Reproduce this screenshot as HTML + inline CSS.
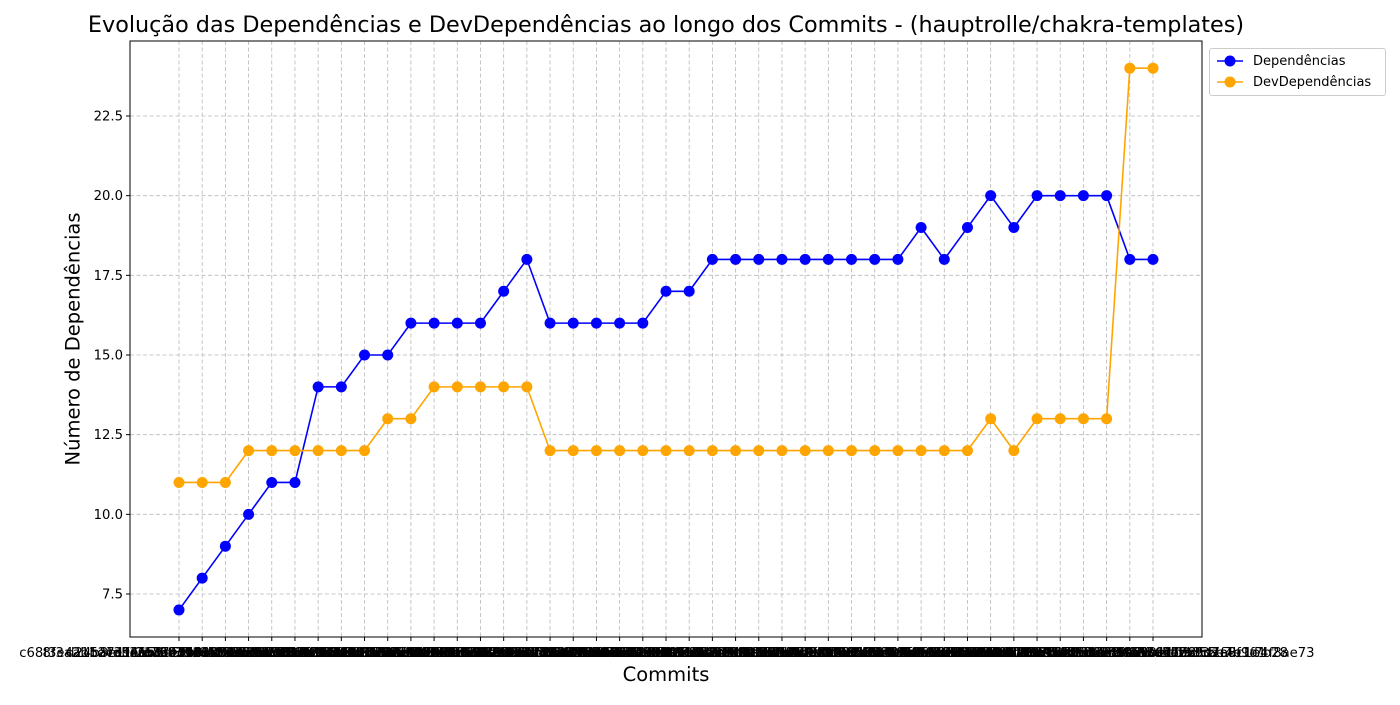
<!DOCTYPE html>
<html><head><meta charset="utf-8">
<style>
body{margin:0;background:#fff;width:1400px;height:700px;overflow:hidden}
svg text{font-family:"DejaVu Sans","Liberation Sans",sans-serif}
</style></head>
<body>
<svg id="chart" width="1400" height="700" xmlns="http://www.w3.org/2000/svg"></svg>
<script>
const categories = [
"c68f3e4a1b2c3d4e5f60718293a4b5c6d7e8f901","8f3a2b1c4d5e6f708192a3b4c5d6e7f8091a2b3c","d24b8e1f3a5c7e9b0d2f4a6c8e0b2d4f6a8c0e2a","5a7c9e1b3d5f7a9c1e3b5d7f9a1c3e5b7d9f1a3c",
"e1f2a3b4c5d6e7f8a9b0c1d2e3f4a5b6c7d8e9f0","7b8c9d0e1f2a3b4c5d6e7f8a9b0c1d2e3f4a5b6c","2c3d4e5f6a7b8c9d0e1f2a3b4c5d6e7f8a9b0c1d","9d0e1f2a3b4c5d6e7f8a9b0c1d2e3f4a5b6c7d8e",
"4e5f6a7b8c9d0e1f2a3b4c5d6e7f8a9b0c1d2e3f","b5c6d7e8f9a0b1c2d3e4f5a6b7c8d9e0f1a2b3c4","6f7a8b9c0d1e2f3a4b5c6d7e8f9a0b1c2d3e4f5a","a1b3c5d7e9f1a3b5c7d9e1f3a5b7c9d1e3f5a7b9",
"3c5e7a9b1d3f5a7c9e1b3d5f7a9c1e3b5d7f9a1c","f0e1d2c3b4a5968778695a4b3c2d1e0f1e2d3c4b","8a9b0c1d2e3f4a5b6c7d8e9f0a1b2c3d4e5f6a7b","1d2e3f4a5b6c7d8e9f0a1b2c3d4e5f6a7b8c9d0e",
"c2d3e4f5a6b7c8d9e0f1a2b3c4d5e6f7a8b9c0d1","5e6f7a8b9c0d1e2f3a4b5c6d7e8f9a0b1c2d3e4f","0f1a2b3c4d5e6f7a8b9c0d1e2f3a4b5c6d7e8f9a","e7f8a9b0c1d2e3f4a5b6c7d8e9f0a1b2c3d4e5f6",
"4a5b6c7d8e9f0a1b2c3d4e5f6a7b8c9d0e1f2a3b","9b0c1d2e3f4a5b6c7d8e9f0a1b2c3d4e5f6a7b8c","2d4f6a8c0e2b4d6f8a0c2e4b6d8f0a2c4e6b8d0f","7e9a1c3e5b7d9f1a3c5e7b9d1f3a5c7e9b1d3f5a",
"b1c2d3e4f5a6b7c8d9e0f1a2b3c4d5e6f7a8b9c0","6c7d8e9f0a1b2c3d4e5f6a7b8c9d0e1f2a3b4c5d","d8e9f0a1b2c3d4e5f6a7b8c9d0e1f2a3b4c5d6e7","3f4a5b6c7d8e9f0a1b2c3d4e5f6a7b8c9d0e1f2a",
"a6b7c8d9e0f1a2b3c4d5e6f7a8b9c0d1e2f3a4b5","1b2c3d4e5f6a7b8c9d0e1f2a3b4c5d6e7f8a9b0c","f3a4b5c6d7e8f9a0b1c2d3e4f5a6b7c8d9e0f1a2","8c9d0e1f2a3b4c5d6e7f8a9b0c1d2e3f4a5b6c7d",
"5d6e7f8a9b0c1d2e3f4a5b6c7d8e9f0a1b2c3d4e","0a2c4e6b8d0f2a4c6e8b0d2f4a6c8e0b2d4f6a8c","e4f5a6b7c8d9e0f1a2b3c4d5e6f7a8b9c0d1e2f3","7a8b9c0d1e2f3a4b5c6d7e8f9a0b1c2d3e4f5a6b",
"2b3c4d5e6f7a8b9c0d1e2f3a4b5c6d7e8f9a0b1c","c9d0e1f2a3b4c5d6e7f8a9b0c1d2e3f4a5b6c7d8","4f5a6b7c8d9e0f1a2b3c4d5e6f7a8b9c0d1e2f3a","9e0f1a2b3c4d5e6f7a8b9c0d1e2f3a4b5c6d7e8f",
"b3d5f7a9c1e3b5d7f9a1c3e5b7d9f1a3c5e7b9d1","1e3b5d7f9a1c3e5b7d9f1a3c5e7b9d1f4e1f7b28","6d1f3a5c7e9b1d3f5a7c9e1b3d5f7a9c1e4f8ae73"];
const deps = [7,8,9,10,11,11,14,14,15,15,16,16,16,16,17,18,16,16,16,16,16,17,17,18,18,18,18,18,18,18,18,18,19,18,19,20,19,20,20,20,20,18,18];
const devDeps = [11,11,11,12,12,12,12,12,12,13,13,14,14,14,14,14,12,12,12,12,12,12,12,12,12,12,12,12,12,12,12,12,12,12,12,13,12,13,13,13,13,24,24];
const yTicks = [7.5,10.0,12.5,15.0,17.5,20.0,22.5];

const NS="http://www.w3.org/2000/svg";
const svg=document.getElementById('chart');
const L=130,R=1202,T=41,B=637;
const x0=179, dx=(1153-179)/42;
function xs(i){return x0+i*dx;}
function ys(v){return 594-(v-7.5)*(594-116)/15;}
function mk(tag,attrs,parent){const e=document.createElementNS(NS,tag);for(const k in attrs)e.setAttribute(k,attrs[k]);(parent||svg).appendChild(e);return e;}

const grid=mk('g',{});


categories.forEach((c,i)=>{mk('line',{x1:xs(i),x2:xs(i),y1:T,y2:B,stroke:'#b8b8b8','stroke-dasharray':'4,2.5','stroke-width':0.8},grid);});
yTicks.forEach(v=>{mk('line',{x1:L,x2:R,y1:ys(v),y2:ys(v),stroke:'#b8b8b8','stroke-dasharray':'4,2.5','stroke-width':0.8},grid);});

const frame=mk('rect',{x:L,y:T,width:R-L,height:B-T,fill:'none',stroke:'#000','stroke-width':1});



const yax=mk('g',{});


yTicks.forEach(v=>{
  mk('line',{x1:L-4,x2:L,y1:ys(v),y2:ys(v),stroke:'#000'},yax);
  const t=mk('text',{x:L-7,y:ys(v)+4.5,'text-anchor':'end','font-size':13.2},yax);
  t.textContent=v.toFixed(1);
});
const xax=mk('g',{});


categories.forEach((c,i)=>{
  mk('line',{x1:xs(i),x2:xs(i),y1:B,y2:B+4,stroke:'#000'},xax);
  const t=mk('text',{x:xs(i),y:B+20,'text-anchor':'middle','font-size':13.2},xax);
  t.textContent=c;
});

function series(vals,color,name){
  const g=mk('g',{});
  
  
  mk('polyline',{points:vals.map((v,i)=>xs(i)+','+ys(v)).join(' '),fill:'none',stroke:color,'stroke-width':1.6},g);
  vals.forEach((v,i)=>{
    const c=mk('circle',{cx:xs(i),cy:ys(v),r:5.5,fill:color},g);
    
    
  });
}
series(deps,'#0000ff','dependencias-series');
series(devDeps,'#ffa500','devdependencias-series');
</script>
<div style="position:absolute;left:0;width:1332px;top:12px;text-align:center;white-space:nowrap;font:22.3px 'DejaVu Sans','Liberation Sans',sans-serif">Evolução das Dependências e DevDependências ao longo dos Commits - (hauptrolle/chakra-templates)</div>
<div style="position:absolute;left:130px;width:1072px;top:663px;text-align:center;font:19.5px 'DejaVu Sans','Liberation Sans',sans-serif">Commits</div>
<div style="position:absolute;left:73px;top:339px;transform:translate(-50%,-50%) rotate(-90deg);white-space:nowrap;font:19.5px 'DejaVu Sans','Liberation Sans',sans-serif">Número de Dependências</div>
<div style="position:absolute;left:1209px;top:48px;width:175px;height:46px;border:1px solid #ccc;border-radius:3px;background:#fff;font:13px 'DejaVu Sans','Liberation Sans',sans-serif">
  <div style="position:absolute;left:5px;top:4px;height:16px;white-space:nowrap">
    <svg width="30" height="16" style="vertical-align:middle"><line x1="2" x2="28" y1="8" y2="8" stroke="#0000ff" stroke-width="1.6"/><circle cx="15" cy="8" r="5.5" fill="#0000ff"/></svg><span style="margin-left:8px;vertical-align:middle">Dependências</span>
  </div>
  <div style="position:absolute;left:5px;top:25px;height:16px;white-space:nowrap">
    <svg width="30" height="16" style="vertical-align:middle"><line x1="2" x2="28" y1="8" y2="8" stroke="#ffa500" stroke-width="1.6"/><circle cx="15" cy="8" r="5.5" fill="#ffa500"/></svg><span style="margin-left:8px;vertical-align:middle">DevDependências</span>
  </div>
</div>
</body></html>
